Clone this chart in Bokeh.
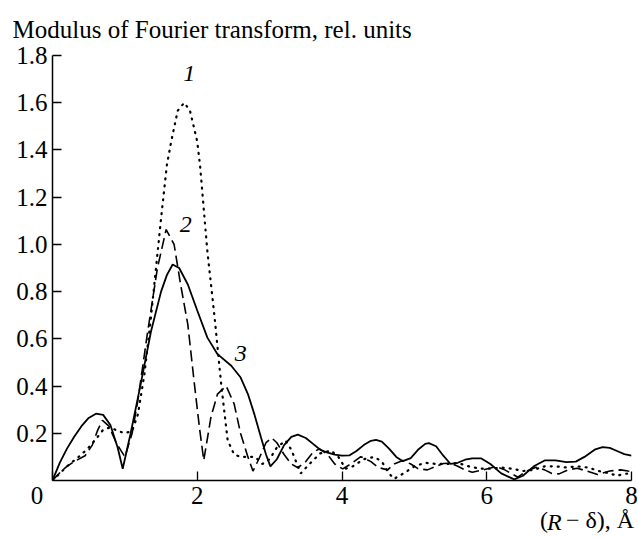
from bokeh.plotting import figure
from bokeh.models import Range1d, FixedTicker, Label, LinearAxis
from bokeh.embed import file_html
from bokeh.resources import INLINE

# Curve 1 (dotted)
r1 = [0, 0.1, 0.2, 0.3, 0.4, 0.5, 0.6, 0.7, 0.8, 0.9, 1.0, 1.1, 1.18, 1.27, 1.36, 1.43, 1.5,
      1.58, 1.64, 1.73, 1.82, 1.9, 2.0, 2.04, 2.14, 2.24, 2.33, 2.42, 2.51, 2.6, 2.7, 2.8,
      2.9, 3.0, 3.1, 3.22, 3.3, 3.43, 3.55, 3.7, 3.85, 3.95, 4.05, 4.15, 4.3, 4.45, 4.55,
      4.65, 4.72, 4.85, 5.0, 5.15, 5.3, 5.45, 5.6, 5.75, 5.9, 6.05, 6.2, 6.35, 6.5, 6.65,
      6.8, 6.95, 7.1, 7.25, 7.4, 7.55, 7.7, 7.8, 7.9, 8.0]
m1 = [0, 0.03, 0.06, 0.085, 0.11, 0.14, 0.175, 0.215, 0.225, 0.21, 0.2, 0.21, 0.28, 0.45,
      0.69, 0.9, 1.11, 1.335, 1.436, 1.566, 1.6, 1.566, 1.436, 1.33, 0.97, 0.69, 0.41, 0.17,
      0.11, 0.1, 0.1, 0.1, 0.07, 0.09, 0.14, 0.169, 0.13, 0.03, 0.07, 0.115, 0.127, 0.1, 0.05,
      0.06, 0.09, 0.1, 0.08, 0.03, 0.007, 0.03, 0.06, 0.075, 0.07, 0.07, 0.074, 0.06, 0.05,
      0.05, 0.055, 0.05, 0.04, 0.045, 0.06, 0.06, 0.055, 0.06, 0.055, 0.04, 0.03, 0.02,
      0.028, 0.03]

# Curve 2 (dashed)
r2 = [0, 0.13, 0.2, 0.3, 0.45, 0.55, 0.62, 0.69, 0.78, 0.88, 1.0, 1.1, 1.18, 1.31, 1.45,
      1.57, 1.68, 1.77, 1.87, 1.96, 2.03, 2.09, 2.19, 2.28, 2.4, 2.51, 2.6, 2.7, 2.77, 2.85,
      2.95, 3.03, 3.1, 3.2, 3.3, 3.39, 3.5, 3.6, 3.69, 3.8, 3.9, 4.01, 4.12, 4.26, 4.4, 4.5,
      4.63, 4.72, 4.84, 4.95, 5.05, 5.18, 5.3, 5.4, 5.5, 5.6, 5.7, 5.8, 5.95, 6.13, 6.25,
      6.43, 6.55, 6.68, 6.8, 6.9, 7.0, 7.12, 7.25, 7.38, 7.53, 7.7, 7.85, 7.95, 8.0]
m2 = [0, 0.042, 0.06, 0.08, 0.105, 0.15, 0.21, 0.255, 0.23, 0.16, 0.1, 0.2, 0.34, 0.62, 0.9,
      1.063, 1.0, 0.83, 0.66, 0.41, 0.225, 0.085, 0.27, 0.366, 0.4, 0.324, 0.198, 0.1, 0.04,
      0.09, 0.16, 0.18, 0.16, 0.11, 0.07, 0.054, 0.08, 0.12, 0.134, 0.11, 0.07, 0.049, 0.07,
      0.101, 0.08, 0.055, 0.045, 0.07, 0.085, 0.07, 0.05, 0.045, 0.06, 0.072, 0.073, 0.06,
      0.045, 0.035, 0.045, 0.059, 0.045, 0.014, 0.04, 0.056, 0.045, 0.03, 0.028, 0.045,
      0.052, 0.04, 0.025, 0.04, 0.045, 0.04, 0.038]

# Curve 3 (solid)
r3 = [0, 0.1, 0.2, 0.3, 0.4, 0.5, 0.6, 0.7, 0.8, 0.9, 0.97, 1.08, 1.22, 1.36, 1.5, 1.58,
      1.66, 1.75, 1.87, 2.0, 2.14, 2.28, 2.47, 2.6, 2.7, 2.79, 2.88, 2.95, 3.01, 3.1, 3.2,
      3.3, 3.39, 3.5, 3.6, 3.7, 3.8, 3.9, 4.0, 4.1, 4.2, 4.3, 4.4, 4.47, 4.55, 4.65, 4.75,
      4.84, 4.95, 5.05, 5.15, 5.2, 5.3, 5.4, 5.5, 5.6, 5.7, 5.8, 5.92, 6.05, 6.2, 6.38, 6.5,
      6.65, 6.8, 6.95, 7.1, 7.23, 7.35, 7.5, 7.6, 7.7, 7.8, 7.9, 8.0]
m3 = [0, 0.075, 0.135, 0.185, 0.23, 0.265, 0.283, 0.278, 0.235, 0.14, 0.05, 0.2, 0.41, 0.63,
      0.8, 0.87, 0.915, 0.9, 0.83, 0.72, 0.605, 0.535, 0.486, 0.436, 0.366, 0.28, 0.183,
      0.11, 0.06, 0.09, 0.15, 0.185, 0.194, 0.18, 0.155, 0.13, 0.118, 0.11, 0.105, 0.106,
      0.125, 0.15, 0.168, 0.172, 0.165, 0.135, 0.1, 0.082, 0.095, 0.13, 0.155, 0.158, 0.145,
      0.105, 0.07, 0.075, 0.088, 0.094, 0.094, 0.07, 0.03, 0.005, 0.02, 0.06, 0.085, 0.085,
      0.078, 0.08, 0.1, 0.132, 0.141, 0.138, 0.125, 0.112, 0.105]

x_ticks = [0, 2, 4, 6, 8]
y_ticks = [0.2, 0.4, 0.6, 0.8, 1.0, 1.2, 1.4, 1.6, 1.8]
curve_names = ["1", "2", "3"]
NBSP = "\u00a0"

SERIF = "Liberation Serif"

p = figure(width=638, height=537, output_backend="svg", toolbar_location=None,
           x_range=Range1d(0, 8), y_range=Range1d(0, 1.8),
           min_border_left=52, min_border_right=7, min_border_top=54, min_border_bottom=57)
p.outline_line_color = None
p.grid.visible = False
p.background_fill_color = "white"
p.border_fill_color = "white"

# caption above the plot, in the title slot
p.title.text = "Modulus of Fourier transform, rel. units"
p.title.align = "left"
p.title.offset = -40
p.title.standoff = 26
p.title.text_font = SERIF
p.title.text_font_size = "25px"
p.title.text_font_style = "normal"
p.title.text_color = "black"

for ax, ticks in ((p.xaxis, x_ticks), (p.yaxis, y_ticks)):
    ax.ticker = FixedTicker(ticks=ticks)
    ax.minor_tick_line_color = None
    ax.major_tick_in = 9
    ax.major_tick_out = 0
    ax.major_tick_line_width = 1.3
    ax.axis_line_width = 1.5
    ax.axis_line_color = "black"
    ax.major_tick_line_color = "black"
    ax.major_label_text_font = SERIF
    ax.major_label_text_font_size = "25px"
    ax.major_label_text_color = "black"

p.xaxis.major_label_standoff = 1
p.yaxis.major_label_standoff = 5
# the origin "0" sits a little left of the corner
p.xaxis.major_label_overrides = {0: "0" + NBSP * 5}
p.yaxis.major_label_overrides = {1.0: "1.0"}


def caption_axis(pieces, style, standoff):
    """A bare axis below the plot whose labels spell part of the x caption."""
    ticks = [pos for pos, _ in pieces]
    ax = LinearAxis(ticker=FixedTicker(ticks=ticks),
                    major_label_overrides={pos: s for pos, s in pieces})
    ax.axis_line_color = None
    ax.major_tick_line_color = None
    ax.minor_tick_line_color = None
    ax.major_tick_in = 0
    ax.major_tick_out = 0
    ax.major_label_standoff = standoff
    ax.major_label_text_font = SERIF
    ax.major_label_text_font_size = "24px"
    ax.major_label_text_font_style = style
    ax.major_label_text_color = "black"
    p.add_layout(ax, "below")
    return ax


# x caption "(R − δ), Å": upright parts on one axis, the italic R on a second one
# pulled back up into the same line
caption_upright = [(6.79, "("), (7.566, "\u2212 \u03b4), \u00c5")]
caption_italic = [(6.935, "R")]
caption_axis(caption_upright, "normal", -5)
caption_axis(caption_italic, "italic", -27)

p.line(r1, m1, line_color="black", line_width=2.2, line_dash="1 6", line_cap="round")
p.line(r2, m2, line_color="black", line_width=1.6, line_dash="11 5")
p.line(r3, m3, line_color="black", line_width=1.8)

# curve numbers
name_x = [1.89, 1.84, 2.60]
name_y = [1.724, 1.086, 0.537]
for nx, ny, s in zip(name_x, name_y, curve_names):
    p.add_layout(Label(x=nx, y=ny, text=s, text_font=SERIF, text_font_size="24px",
                       text_font_style="italic", text_align="center",
                       text_baseline="middle", text_color="black"))

open("out.html", "w").write(file_html(p, INLINE))
